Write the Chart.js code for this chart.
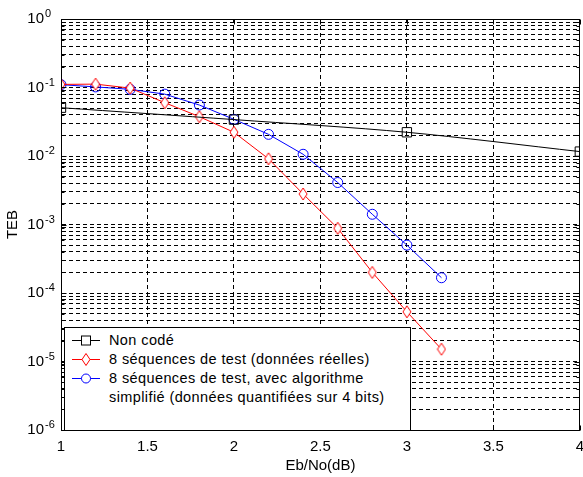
<!DOCTYPE html>
<html><head><meta charset="utf-8">
<script src="https://cdn.jsdelivr.net/npm/chart.js@4/dist/chart.umd.min.js"></script>
<style>
html,body{margin:0;padding:0;background:#fff;overflow:hidden;}
#wrap{position:relative;width:583px;height:477px;overflow:hidden;background:#fff;}
#c{position:absolute;left:0;top:0;}
#legend{position:absolute;left:64px;top:327px;width:347px;height:104px;box-sizing:border-box;border:1px solid #000;background:#fff;}
.lt{position:absolute;left:109px;font-family:"Liberation Sans",Arial,sans-serif;font-size:14.5px;line-height:16px;letter-spacing:0.4px;color:#000;white-space:nowrap;}
#lsym{position:absolute;left:0;top:0;}
</style></head>
<body>
<div id="wrap">
<canvas id="c" width="592" height="477"></canvas>
<div id="legend"></div>
<svg id="lsym" width="583" height="477">
  <line x1="72" y1="340.5" x2="100" y2="340.5" stroke="#000" stroke-width="1"/>
  <rect x="81.5" y="336" width="9" height="9" fill="#fff" stroke="#000" stroke-width="1"/>
  <line x1="72" y1="359.5" x2="100" y2="359.5" stroke="#ff0000" stroke-width="1"/>
  <path d="M86 353.5 L90 359.5 L86 365.5 L82 359.5 Z" fill="#fff" stroke="#ff0000" stroke-width="1"/>
  <line x1="72" y1="378.5" x2="100" y2="378.5" stroke="#0000ff" stroke-width="1"/>
  <circle cx="86" cy="378.5" r="4.5" fill="#fff" stroke="#0000ff" stroke-width="1"/>
</svg>
<div class="lt" style="top:332px">Non codé</div>
<div class="lt" style="top:351px">8 séquences de test (données réelles)</div>
<div class="lt" style="top:370px">8 séquences de test, avec algorithme</div>
<div class="lt" style="top:389px">simplifié (données quantifiées sur 4 bits)</div>
</div>
<script>
// ---- data ----
const seriesLabels = ["Non codé", "8 séquences de test (données réelles)", "8 séquences de test, avec algorithme simplifié (données quantifiées sur 4 bits)"];
const xNonCode = [1, 2, 3, 4];
const yNonCode = [0.0507, 0.034, 0.0222, 0.0116];
const xTest = [1.0, 1.2, 1.4, 1.6, 1.8, 2.0, 2.2, 2.4, 2.6, 2.8, 3.0, 3.2];
const yReelles = [0.111, 0.112, 0.098, 0.060, 0.0375, 0.0222, 0.0091, 0.00279, 0.00088, 0.0002, 0.0000532, 0.0000151];
const yQuant = [0.110, 0.102, 0.094, 0.080, 0.0555, 0.0343, 0.0207, 0.0106, 0.0041, 0.00141, 0.0005, 0.000167];
const xTickValues = [1, 1.5, 2, 2.5, 3, 3.5, 4];
const yDecades = [-6, -5, -4, -3, -2, -1, 0];
const yTickBase = '10';

const FONT = '"Liberation Sans", Arial, sans-serif';
const TICK_SIZE = 15;

function pts(xs, ys){ return xs.map((x,i)=>({x:x, y:ys[i]})); }

// diamond marker (taller than wide)
function diamond(color){
  const c = document.createElement('canvas');
  c.width = 10; c.height = 14;
  const g = c.getContext('2d');
  g.strokeStyle = color; g.lineWidth = 1;
  g.beginPath();
  g.moveTo(5, 1); g.lineTo(9, 7); g.lineTo(5, 13); g.lineTo(1, 7); g.closePath();
  g.fillStyle = '#fff'; g.fill();
  g.stroke();
  return c;
}

const yTickList = [];
yDecades.forEach(e => {
  if (e === 0) { yTickList.push(1); return; }
  for (let m = 1; m <= 9; m++) yTickList.push(parseFloat((m * Math.pow(10, e)).toPrecision(3)));
});
const Y_PAD = 2;
const EXP_GAP = '\u2002\u2002'; // room for the exponent after "10"

const boxPlugin = {
  id: 'box',
  afterDatasetsDraw(chart){
    const a = chart.chartArea, ctx = chart.ctx;
    const L = Math.round(a.left)+0.5, T = Math.round(a.top)+0.5, R = Math.round(a.right)-0.5, B = Math.round(a.bottom)+0.5;
    ctx.save();
    ctx.strokeStyle = '#000'; ctx.lineWidth = 1; ctx.setLineDash([]);
    ctx.beginPath();
    const xs = chart.scales.x, ys = chart.scales.y;
    xTickValues.forEach(v => {
      const px = Math.round(xs.getPixelForValue(v)) + 0.5;
      ctx.moveTo(px, B); ctx.lineTo(px, B - 5);
      ctx.moveTo(px, T); ctx.lineTo(px, T + 5);
    });
    yTickList.forEach(v => {
      const py = Math.round(ys.getPixelForValue(v)) + 0.5;
      const major = Math.abs(Math.log10(v) - Math.round(Math.log10(v))) < 1e-6;
      const len = major ? 5 : 3;
      ctx.moveTo(L, py); ctx.lineTo(L + len, py);
      ctx.moveTo(R, py); ctx.lineTo(R - len, py);
    });
    ctx.stroke();
    ctx.strokeRect(L, T, R - L, B - T);
    ctx.restore();
  },
  afterDraw(chart){
    // exponents of the y tick labels "10^n"
    const ys = chart.scales.y, ctx = chart.ctx;
    ctx.save();
    ctx.font = TICK_SIZE + 'px ' + FONT;
    const gapW = ctx.measureText(EXP_GAP).width;
    ctx.fillStyle = '#000';
    ctx.font = '11px ' + FONT;
    ctx.textAlign = 'left';
    ctx.textBaseline = 'alphabetic';
    yDecades.forEach(e => {
      const py = ys.getPixelForValue(Math.pow(10, e));
      ctx.fillText(String(e), ys.right - Y_PAD - gapW + 1, py - 2);
    });
    ctx.restore();
  }
};

new Chart(document.getElementById('c'), {
  type: 'line',
  data: {
    datasets: [
      { label: seriesLabels[0], data: pts(xNonCode, yNonCode), borderColor: '#000', backgroundColor: '#fff',
        borderWidth: 1, pointStyle: 'rect', pointRadius: 6.6, pointBorderWidth: 1, pointBorderColor: '#000', pointBackgroundColor: 'rgba(0,0,0,0)', tension: 0.3 },
      { label: seriesLabels[1], data: pts(xTest, yReelles), borderColor: '#ff0000', backgroundColor: '#fff',
        borderWidth: 1, pointStyle: diamond('#ff0000'), pointRadius: 6, tension: 0 },
      { label: seriesLabels[2], data: pts(xTest, yQuant), borderColor: '#0000ff', backgroundColor: '#fff',
        borderWidth: 1, pointStyle: 'circle', pointRadius: 5, pointBorderWidth: 1, pointBorderColor: '#0000ff', pointBackgroundColor: 'rgba(0,0,0,0)', tension: 0 }
    ]
  },
  options: {
    responsive: false,
    animation: false,
    devicePixelRatio: 1,
    layout: { padding: { top: 19, right: 5, bottom: 0, left: 0 } },
    plugins: { legend: { display: false }, tooltip: { enabled: false } },
    elements: { line: { fill: false } },
    scales: {
      x: {
        type: 'linear', min: 1, max: 4,
        afterBuildTicks: s => { s.ticks = xTickValues.map(v => ({value: v})); },
        afterFit: s => { s.height = 47; },
        ticks: { color: '#000', font: { family: FONT, size: TICK_SIZE }, padding: 8, autoSkip: false, maxRotation: 0,
          callback: v => String(v) },
        grid: { color: '#000', lineWidth: 1, drawTicks: false },
        border: { display: true, color: '#000', dash: [4, 3] },
        title: { display: true, text: 'Eb/No(dB)', color: '#000', font: { family: FONT, size: 15 }, padding: { top: 0, bottom: 2 } }
      },
      y: {
        type: 'logarithmic', min: 1e-6, max: 1,
        afterBuildTicks: s => { s.ticks = yTickList.map(v => ({value: v})); },
        afterFit: s => { s.width = 61; },
        ticks: { color: '#000', font: { family: FONT, size: TICK_SIZE }, padding: Y_PAD, autoSkip: false,
          callback: v => {
            const e = Math.log10(v);
            if (Math.abs(e - Math.round(e)) > 1e-6) return '';
            return yTickBase + EXP_GAP;
          } },
        grid: { color: '#000', lineWidth: 1, drawTicks: false },
        border: { display: true, color: '#000', dash: [4, 3] },
        title: { display: true, text: 'TEB', color: '#000', font: { family: FONT, size: 15 }, padding: { top: 4, bottom: 0 } }
      }
    }
  },
  plugins: [boxPlugin]
});
</script>
</body></html>
